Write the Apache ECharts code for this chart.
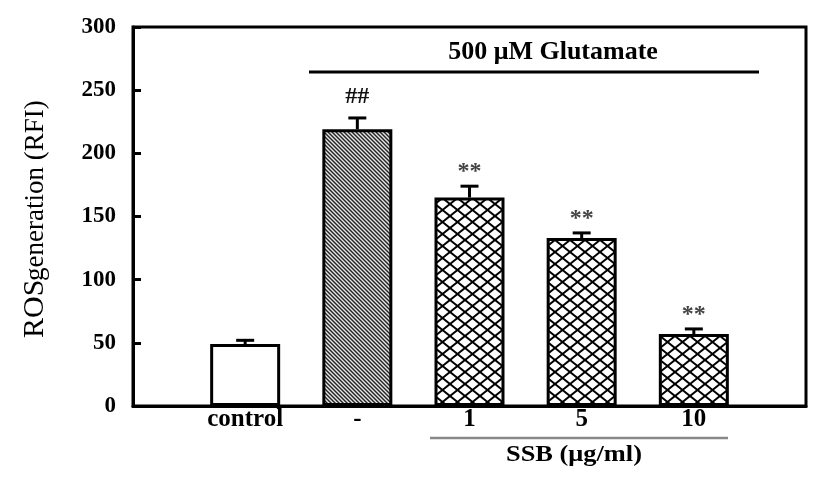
<!DOCTYPE html>
<html>
<head>
<meta charset="utf-8">
<script src="https://cdn.jsdelivr.net/npm/echarts@6/dist/echarts.min.js"></script>
<style>html,body{margin:0;padding:0;background:#fff}#c{width:827px;height:481px}</style>
</head>
<body>
<div id="c"></div>
<script>
// ---- data ----
var categories = ['', 'control', '-', '1', '5', '10', ''];
var means = ['-', 49, 219, 165, 133, 57, '-'];
var errors = [0, 3, 9, 9, 4, 4, 0];
var sigLabels = ['', '', '##', '**', '**', '**', ''];
var patterns = ['', 'none', 'hatch', 'cross', 'cross', 'cross', ''];
var yTicks = [0, 50, 100, 150, 200, 250, 300];

function makeHatch() {
  var c = document.createElement('canvas');
  c.width = 4; c.height = 4;
  var g = c.getContext('2d');
  g.fillStyle = '#e6e6e6'; g.fillRect(0, 0, 4, 4);
  g.strokeStyle = '#222'; g.lineWidth = 1.4;
  for (var k = -1; k <= 1; k++) {
    g.beginPath(); g.moveTo(-4 + k * 4, -4); g.lineTo(8 + k * 4, 8); g.stroke();
  }
  return c;
}
function makeCross() {
  var w = 15, h = 12;
  var c = document.createElement('canvas');
  c.width = w; c.height = h;
  var g = c.getContext('2d');
  g.fillStyle = '#fff'; g.fillRect(0, 0, w, h);
  g.strokeStyle = '#000'; g.lineWidth = 2;
  for (var k = -1; k <= 1; k++) {
    g.beginPath(); g.moveTo(k * w - w, -h); g.lineTo(k * w + 2 * w, 2 * h); g.stroke();
    g.beginPath(); g.moveTo(k * w + 2 * w, -h); g.lineTo(k * w - w, 2 * h); g.stroke();
  }
  return c;
}
var hatchImg = makeHatch(), crossImg = makeCross();
function fillFor(p) {
  if (p === 'hatch') return { image: hatchImg, repeat: 'repeat' };
  if (p === 'cross') return { image: crossImg, repeat: 'repeat' };
  return '#fff';
}

var barData = means.map(function (v, i) {
  if (v === '-') return '-';
  return { value: v, itemStyle: { color: fillFor(patterns[i]), borderColor: '#000', borderWidth: 3 } };
});
var errData = means.map(function (v, i) {
  return v === '-' ? [i, '-', '-', ''] : [i, v, v + errors[i], sigLabels[i]];
});

var FONT = '"Liberation Serif", "Times New Roman", serif';
var chart = echarts.init(document.getElementById('c'), null, { renderer: 'canvas' });
chart.setOption({
  animation: false,
  grid: { left: 133, right: 21, top: 27, bottom: 75, show: true, borderColor: '#000', borderWidth: 3 },
  xAxis: {
    type: 'category', data: categories, boundaryGap: false,
    axisLine: { lineStyle: { color: '#000', width: 3 } },
    axisTick: { show: false },
    splitLine: { show: false },
    axisLabel: { interval: 0, color: '#000', fontFamily: FONT, fontWeight: 'bold', fontSize: 25, margin: 1 }
  },
  yAxis: {
    type: 'value', min: 0, max: 300, interval: 50,
    axisLine: { show: true, lineStyle: { color: '#000', width: 3 } },
    axisTick: { show: true, inside: true, length: 8, lineStyle: { color: '#000', width: 3 } },
    splitLine: { show: false },
    axisLabel: { color: '#000', fontFamily: FONT, fontWeight: 'bold', fontSize: 23, margin: 17 }
  },
  series: [
    {
      type: 'bar', data: barData, barWidth: 70, z: 2
    },
    {
      type: 'custom', z: 3,
      data: errData,
      encode: { x: 0, y: [1, 2] },
      renderItem: function (params, api) {
        var m = api.value(1);
        if (m === '-' || isNaN(m)) return null;
        var x = api.value(0);
        var p0 = api.coord([x, m]);
        var p1 = api.coord([x, api.value(2)]);
        var cap = 9;
        var lab = api.value(3);
        var off = lab === '##' ? 21 : 14;
        return {
          type: 'group',
          children: [
            { type: 'line', shape: { x1: p0[0], y1: p0[1], x2: p1[0], y2: p1[1] }, style: { stroke: '#000', lineWidth: 3 } },
            { type: 'line', shape: { x1: p1[0] - cap, y1: p1[1], x2: p1[0] + cap, y2: p1[1] }, style: { stroke: '#000', lineWidth: 3 } },
            { type: 'text', x: p1[0], y: p1[1] - off, style: { text: lab, fill: lab === '##' ? '#111' : '#444', font: 'bold 24px ' + FONT, align: 'center', verticalAlign: 'middle' } }
          ]
        };
      }
    }
  ],
  graphic: [
    { type: 'text', x: 553, y: 53, scaleX: 1.04, style: { text: '500 \u03bcM Glutamate', fill: '#000', font: 'bold 25px ' + FONT, align: 'center', verticalAlign: 'middle' } },
    { type: 'line', shape: { x1: 309, y1: 72, x2: 759, y2: 72 }, style: { stroke: '#000', lineWidth: 3 } },
    { type: 'line', shape: { x1: 430, y1: 438, x2: 728, y2: 438 }, style: { stroke: '#888', lineWidth: 2.5 } },
    { type: 'text', x: 574, y: 455, scaleX: 1.1, style: { text: 'SSB (\u03bcg/ml)', fill: '#000', font: 'bold 24px ' + FONT, align: 'center', verticalAlign: 'middle' } },
    { type: 'text', x: 35, y: 338, rotation: Math.PI / 2, style: { text: 'ROS', fill: '#000', font: '30px ' + FONT, align: 'left', verticalAlign: 'middle' } },
    { type: 'text', x: 36, y: 281, rotation: Math.PI / 2, style: { text: 'generation (RFI)', fill: '#000', font: '27px ' + FONT, align: 'left', verticalAlign: 'middle' } }
  ]
});
</script>
</body>
</html>
